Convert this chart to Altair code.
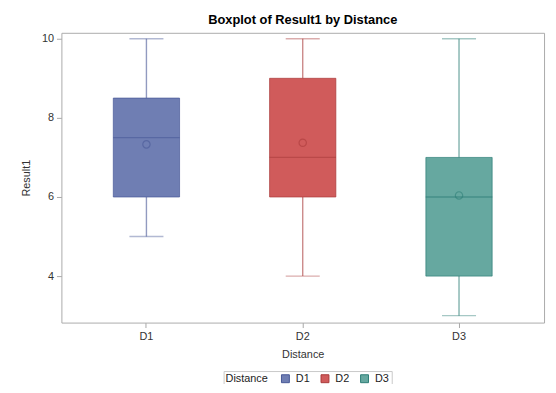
import altair as alt
import pandas as pd

categories = ["D1", "D2", "D3"]
mins = [5, 4, 3]
q1s = [6, 6, 4]
medians = [7.5, 7, 6]
q3s = [8.5, 9, 7]
maxs = [10, 10, 10]
means = [7.33, 7.37, 6.04]
y_ticks = [4, 6, 8, 10]

fill_colors = ["#6F7EB3", "#D05B5B", "#66A8A0"]
dark_colors = ["#475796", "#A93A3A", "#2C7D75"]

df = pd.DataFrame({
    "Distance": categories, "min": mins, "q1": q1s, "median": medians,
    "q3": q3s, "max": maxs, "mean": means,
})

FONT = "Liberation Sans"
fill_scale = alt.Scale(domain=categories, range=fill_colors)
stroke_scale = alt.Scale(domain=categories, range=dark_colors)

legend = alt.Legend(
    orient="none", legendX=164, legendY=342, direction="horizontal",
    titleOrient="left", strokeColor="#C8C8C8", fillColor="white", padding=2,
    titleFontWeight="normal", titleFontSize=11, titleFont=FONT, titleColor="#222",
    titlePadding=12, labelFont=FONT, labelFontSize=11, labelColor="#222",
    labelOffset=5, columnPadding=8, symbolType="square", symbolSize=64,
    symbolStrokeWidth=1, title="Distance",
)

x_enc = alt.X(
    "Distance:N",
    scale=alt.Scale(type="band", paddingInner=0, paddingOuter=0.044, domain=categories),
    axis=alt.Axis(title="Distance", labelAngle=0, tickSize=5, labelPadding=3,
                  titlePadding=7, domain=False),
)
y_scale = alt.Scale(domain=[2.825, 10.15], nice=False, zero=False)
y_axis = alt.Axis(title="Result1", values=y_ticks, tickSize=5, labelPadding=3,
                  titlePadding=10, domain=False, grid=False)

base = alt.Chart(df).encode(x=x_enc)

fill_enc = alt.Fill("Distance:N", scale=fill_scale, legend=legend)
stroke_enc = alt.Stroke("Distance:N", scale=stroke_scale, legend=legend)

lower = base.mark_rule(strokeWidth=1.4, strokeOpacity=0.6).encode(
    y=alt.Y("min:Q", scale=y_scale, axis=y_axis), y2="q1:Q", stroke=stroke_enc)
upper = base.mark_rule(strokeWidth=1.4, strokeOpacity=0.6).encode(
    y=alt.Y("q3:Q", scale=y_scale, axis=y_axis), y2="max:Q", stroke=stroke_enc)
cap_lo = base.mark_tick(filled=False, thickness=0.01, size=33, strokeWidth=1.4,
                        strokeOpacity=0.6).encode(
    y=alt.Y("min:Q", scale=y_scale, axis=y_axis), stroke=stroke_enc)
cap_hi = base.mark_tick(filled=False, thickness=0.01, size=33, strokeWidth=1.4,
                        strokeOpacity=0.6).encode(
    y=alt.Y("max:Q", scale=y_scale, axis=y_axis), stroke=stroke_enc)
box = base.mark_bar(size=67, strokeWidth=1, strokeOpacity=0.7).encode(
    y=alt.Y("q1:Q", scale=y_scale, axis=y_axis), y2="q3:Q",
    fill=fill_enc, stroke=stroke_enc)
med = base.mark_tick(filled=False, thickness=0.01, size=66, strokeWidth=1.3,
                     strokeOpacity=0.8).encode(
    y=alt.Y("median:Q", scale=y_scale, axis=y_axis), stroke=stroke_enc)
mean = base.mark_point(shape="circle", filled=False, size=55, strokeWidth=1.2,
                       strokeOpacity=0.8).encode(
    y=alt.Y("mean:Q", scale=y_scale, axis=y_axis), stroke=stroke_enc)

chart = alt.layer(box, lower, upper, cap_lo, cap_hi, med, mean).properties(
    width=488, height=293,
    background="white",
    autosize=alt.AutoSizeParams(type="none"),
    padding={"left": 54, "top": 23, "right": 4, "bottom": 60},
    title=alt.TitleParams("Boxplot of Result1 by Distance", font=FONT, fontSize=13,
                          fontWeight="bold", color="black", anchor="middle",
                          offset=6),
).configure_view(stroke="#ABABAB", strokeWidth=1).configure_axis(
    labelFont=FONT, titleFont=FONT, labelFontSize=11, titleFontSize=11,
    labelColor="#333333", titleColor="#333333", tickColor="#A8A8A8",
    titleFontWeight="normal",
)

chart.save("out.html", embed_options={"renderer": "svg", "actions": False})
